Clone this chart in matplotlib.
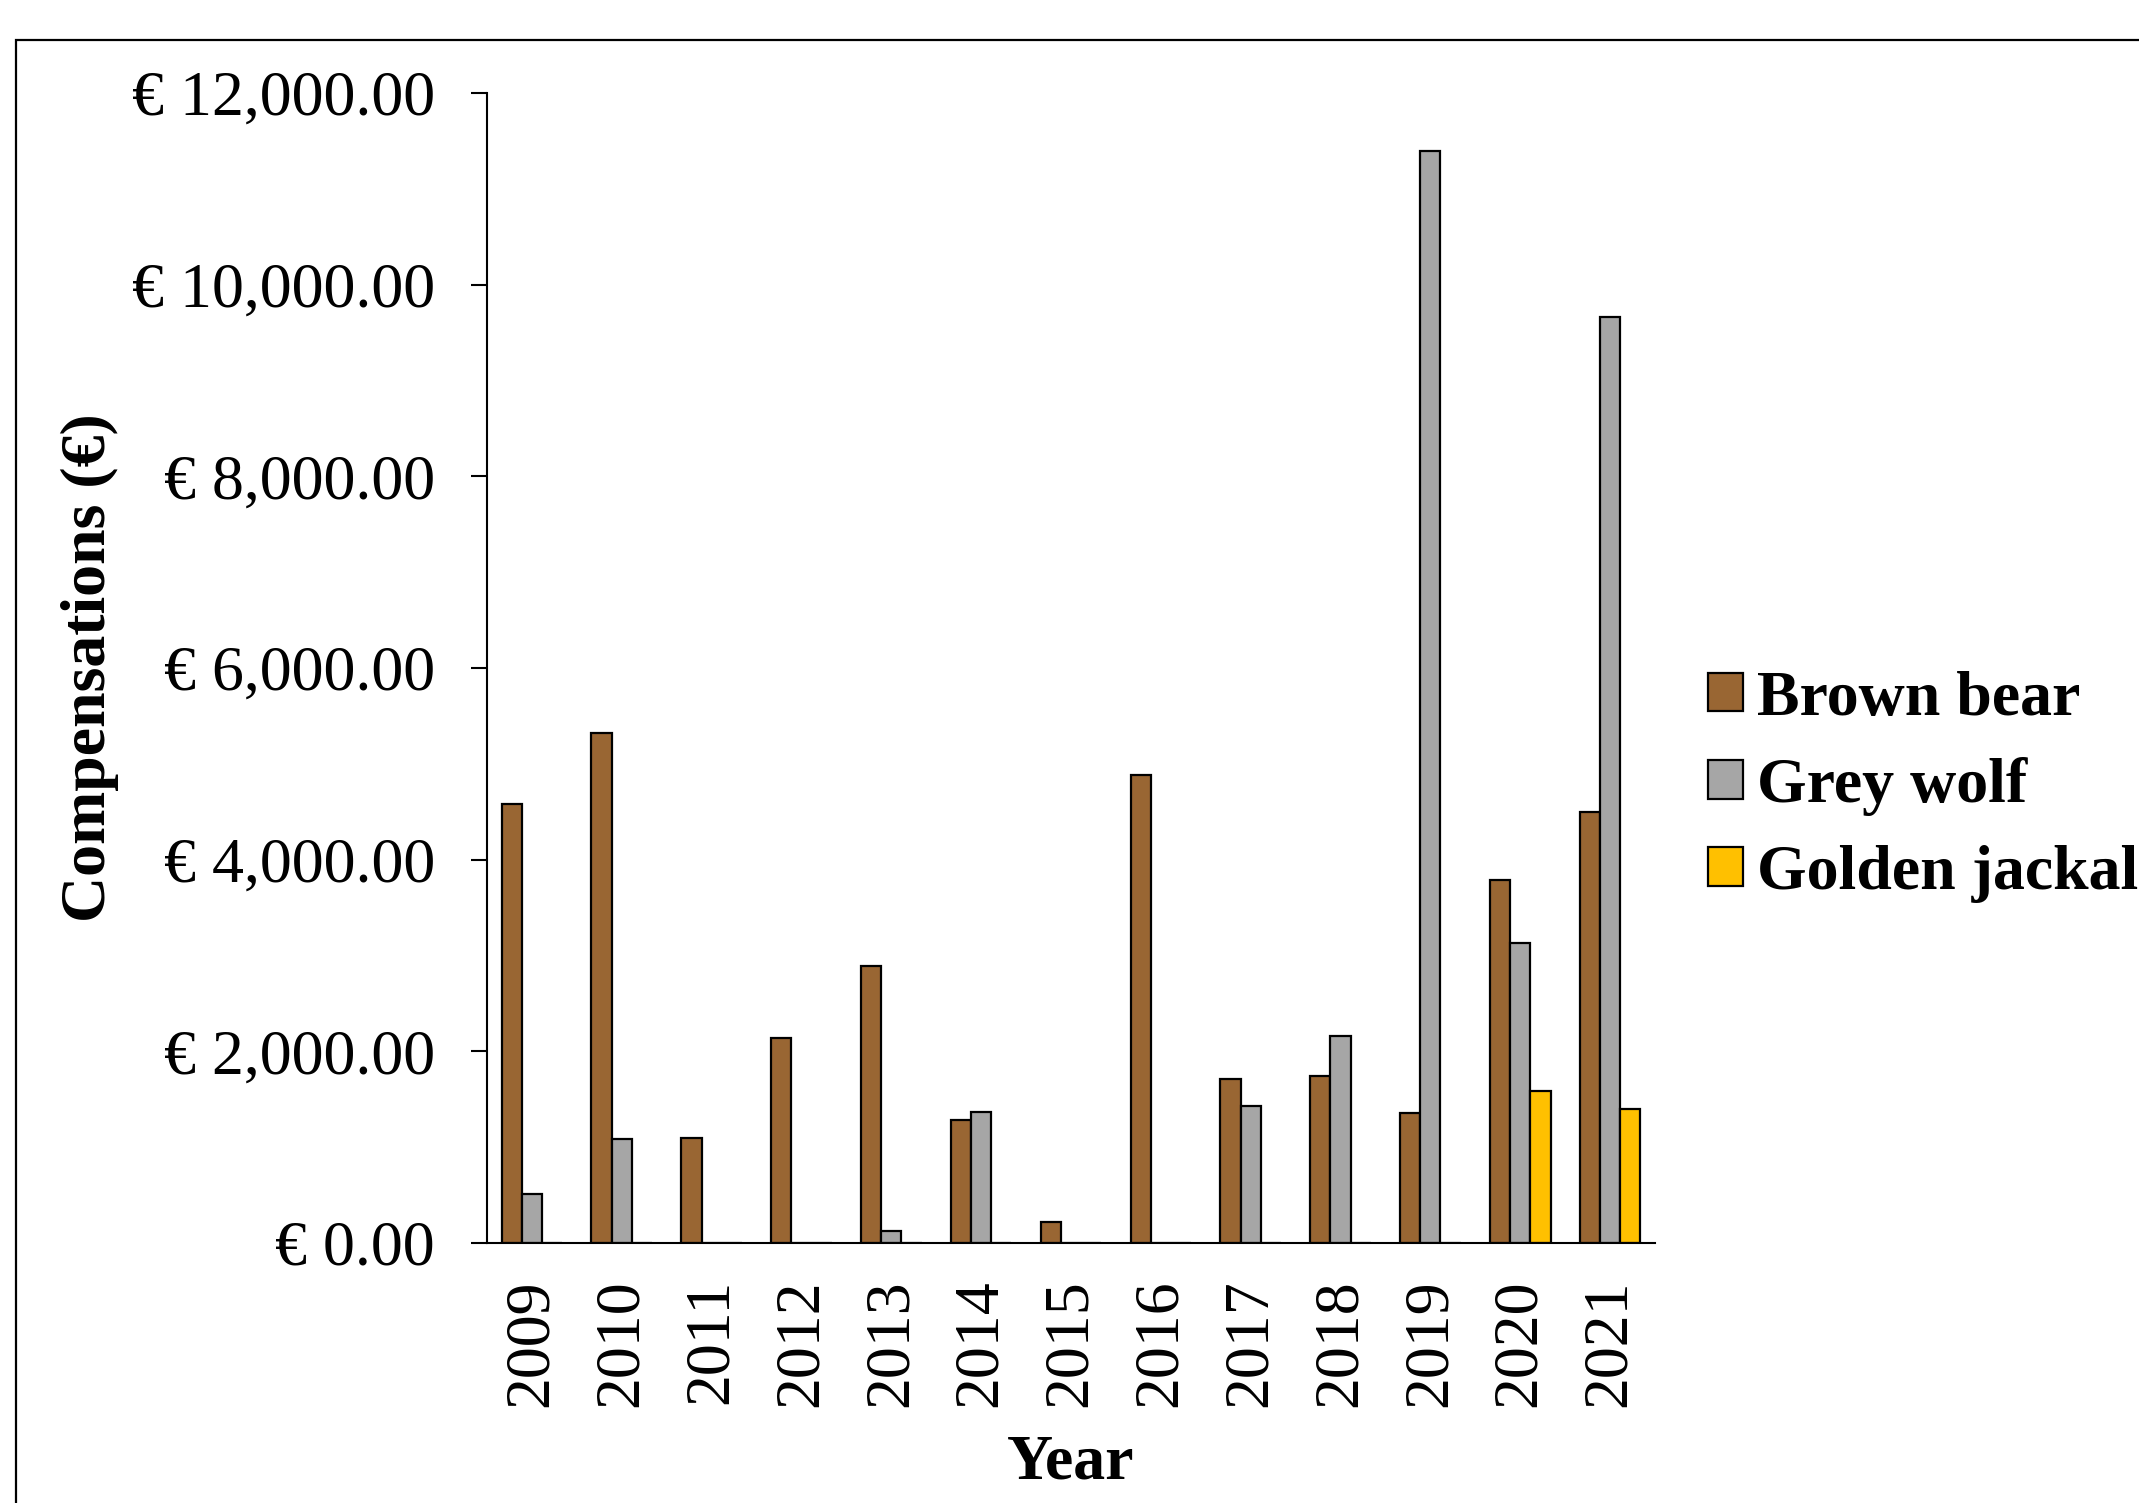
import matplotlib.pyplot as plt
import matplotlib.patches as mpatches
import numpy as np
from matplotlib.ticker import FuncFormatter

years = ['2009', '2010', '2011', '2012', '2013', '2014', '2015',
         '2016', '2017', '2018', '2019', '2020', '2021']
brown_bear = [4580, 5320, 1100, 2140, 2890, 1285, 215,
              4885, 1710, 1740, 1355, 3790, 4500]
grey_wolf = [515, 1085, 0, 0, 130, 1370, 0,
             0, 1425, 2165, 11400, 3135, 9660]
golden_jackal = [0, 0, 0, 0, 0, 0, 0,
                 0, 0, 0, 0, 1585, 1395]
species = ['Brown bear', 'Grey wolf', 'Golden jackal']
colours = ['#996633', '#A6A6A6', '#FFC000']


def euro(v, pos):
    return '\u20ac {:,.2f}'.format(v)


def main():
    plt.rcParams['font.family'] = ['Liberation Serif', 'DejaVu Serif']
    fs = 46
    fig = plt.figure(figsize=(21.39, 15.03), dpi=100)
    ax = fig.add_axes([0.2277, 0.1730, 0.7737 - 0.2277, 0.9381 - 0.1730])

    x = np.arange(len(years))
    w = 0.225
    series = [brown_bear, grey_wolf, golden_jackal]
    for i, (vals, name, c) in enumerate(zip(series, species, colours)):
        ax.bar(x + (i - 1) * w, vals, width=w, color=c, edgecolor='black',
               linewidth=1.6, label=name)

    ax.set_xlim(-0.5, len(years) - 0.5)
    ax.set_ylim(0, 12000)
    ax.set_yticks(np.arange(0, 12001, 2000))
    ax.yaxis.set_major_formatter(FuncFormatter(euro))
    ax.set_xticks(x)
    ax.set_xticklabels(years, rotation=90)
    ax.tick_params(axis='y', length=11.5, width=1.5, pad=26, labelsize=fs)
    ax.tick_params(axis='x', length=0, pad=26, labelsize=fs)

    for s in ['top', 'right']:
        ax.spines[s].set_visible(False)
    for s in ['left', 'bottom']:
        ax.spines[s].set_linewidth(1.5)

    ax.set_xlabel('Year', fontsize=fs, fontweight='bold', labelpad=20)
    ax.set_ylabel('Compensations (\u20ac)', fontsize=fs, fontweight='bold',
                  labelpad=9)

    fig.legend(loc='center left', bbox_to_anchor=(0.7985, 0.4765),
               frameon=False, prop={'weight': 'bold', 'size': fs},
               handlelength=0.55, handleheight=0.55, handletextpad=0.22,
               labelspacing=0.45, borderpad=0, borderaxespad=0)

    # outer frame, cut off on the right and bottom
    frame = mpatches.Rectangle((0.0075, -0.1), 1.2, 0.9734 + 0.1,
                               transform=fig.transFigure, fill=False,
                               edgecolor='black', linewidth=1.6,
                               clip_on=False)
    fig.patches.append(frame)

    fig.savefig('out.png', dpi=100, facecolor='white')


if __name__ == '__main__':
    main()
